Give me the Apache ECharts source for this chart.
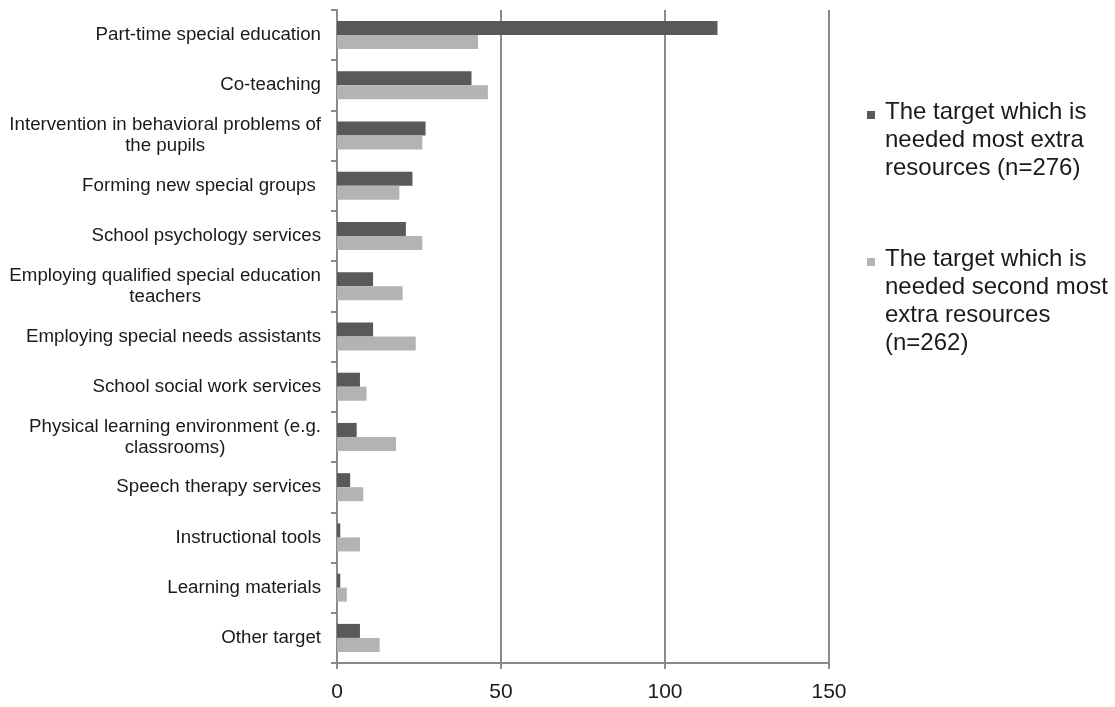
<!DOCTYPE html>
<html>
<head>
<meta charset="utf-8">
<script src="https://cdn.jsdelivr.net/npm/echarts@6/dist/echarts.min.js"></script>
<style>
html,body{margin:0;padding:0;background:#fff;}
#chart{width:1115px;height:707px;}
</style>
</head>
<body>
<div id="chart"></div>
<script>
const categories = [
  "Part-time special education",
  "Co-teaching",
  "Intervention in behavioral problems of\nthe pupils",
  "Forming new special groups ",
  "School psychology services",
  "Employing qualified special education\nteachers",
  "Employing special needs assistants",
  "School social work services",
  "Physical learning environment (e.g.\nclassrooms)",
  "Speech therapy services",
  "Instructional tools",
  "Learning materials",
  "Other target"
];
const seriesNames = [
  "The target which is\nneeded most extra\nresources (n=276)",
  "The target which is\nneeded second most\nextra resources\n(n=262)"
];
const mostNeeded = [116, 41, 27, 23, 21, 11, 11, 7, 6, 4, 1, 1, 7];
const secondMost = [43, 46, 26, 19, 26, 20, 24, 9, 18, 8, 7, 3, 13];
const xTicks = [0, 50, 100, 150];

const FONT = "'Liberation Sans', Arial, sans-serif";
const LEG_LH = 28;
const LEG_W = 13;
// legend icon: small square near the top of a taller, wider (invisible) box so it sits beside the first text line
function legendIcon(lines) {
  const h = lines * LEG_LH;
  return 'path://M0,13L8,13L8,21L0,21Z M0,0L0.01,0L0.01,0.01Z M' + LEG_W + ',' + h + 'L' + (LEG_W - 0.01) + ',' + h + 'L' + (LEG_W - 0.01) + ',' + (h - 0.01) + 'Z';
}
const chart = echarts.init(document.getElementById('chart'), null, {renderer: 'canvas'});
const option = {
  backgroundColor: '#ffffff',
  animation: false,
  textStyle: {fontFamily: FONT},
  grid: {left: 337, right: 286, top: 10, bottom: 44, containLabel: false},
  legend: [
    {
      data: [{name: seriesNames[0], icon: legendIcon(3)}],
      left: 867, top: 98, padding: 0,
      orient: 'vertical',
      itemWidth: LEG_W, itemHeight: 3 * LEG_LH,
      textStyle: {fontFamily: FONT, fontSize: 24, lineHeight: LEG_LH, color: '#1a1a1a'}
    },
    {
      data: [{name: seriesNames[1], icon: legendIcon(4)}],
      left: 867, top: 245, padding: 0,
      orient: 'vertical',
      itemWidth: LEG_W, itemHeight: 4 * LEG_LH,
      textStyle: {fontFamily: FONT, fontSize: 24, lineHeight: LEG_LH, color: '#1a1a1a'}
    }
  ],
  xAxis: {
    type: 'value',
    min: xTicks[0], max: xTicks[xTicks.length - 1], interval: 50,
    axisLine: {show: true, lineStyle: {color: '#8a8a8a', width: 2}},
    axisTick: {show: true, length: 6, lineStyle: {color: '#8a8a8a', width: 2}},
    axisLabel: {fontFamily: FONT, fontSize: 21, color: '#1a1a1a', margin: 19},
    splitLine: {show: true, lineStyle: {color: '#8a8a8a', width: 2}}
  },
  yAxis: {
    type: 'category',
    data: categories,
    inverse: true,
    axisLine: {show: true, lineStyle: {color: '#8a8a8a', width: 2}},
    axisTick: {show: true, length: 6, lineStyle: {color: '#8a8a8a', width: 2}},
    axisLabel: {
      fontFamily: FONT, fontSize: 18.7, lineHeight: 21, color: '#1a1a1a', margin: 16, align: 'right',
      formatter: function (v) { return '{c|' + v + '}'; },
      rich: {c: {fontFamily: FONT, fontSize: 18.7, lineHeight: 21, color: '#1a1a1a', align: 'center'}}
    },
    splitLine: {show: false}
  },
  series: [
    {
      name: seriesNames[0], type: 'bar', data: mostNeeded,
      barWidth: 14, barGap: '0%',
      itemStyle: {color: '#595959'}
    },
    {
      name: seriesNames[1], type: 'bar', data: secondMost,
      barWidth: 14, barGap: '0%',
      itemStyle: {color: '#b3b3b3'}
    }
  ]
};
chart.setOption(option);
</script>
</body>
</html>
